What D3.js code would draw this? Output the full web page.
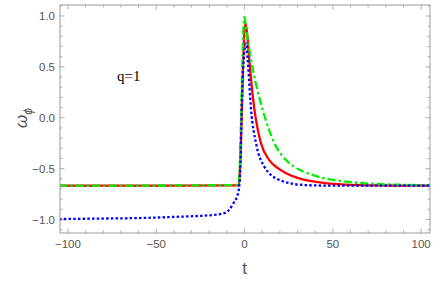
<!DOCTYPE html>
<html>
<head>
<meta charset="utf-8">
<script src="https://cdn.jsdelivr.net/npm/d3@7"></script>
<style>
  body { margin: 0; background: #fff; }
</style>
</head>
<body>
<svg id="chart" width="436" height="282"></svg>
<script>
// values: [t, omega_phi]
var redSeries = [[-105, -0.667], [-40, -0.667], [-3.3, -0.664], [0.4, 0.93], [1.4, 0.84],
    [2.7, 0.567], [4, 0.32], [5.6, 0.077], [7.3, -0.1], [9.3, -0.25], [14, -0.415],
    [18.5, -0.49], [23.5, -0.545], [30, -0.59], [40.5, -0.63], [55, -0.655], [76, -0.665], [105, -0.667]];
var greenSeries = [[-105, -0.667], [-40, -0.665], [-3.4, -0.66], [-0.1, 0.99], [1.2, 0.84],
    [3.7, 0.567], [6.5, 0.33], [10.3, 0.077], [13.5, -0.1], [16.9, -0.25], [23.5, -0.415],
    [29, -0.49], [35.8, -0.545], [42.8, -0.585], [50, -0.61], [65, -0.64], [88, -0.658], [105, -0.664]];
var blueSeries = [[-105, -0.995], [-80, -0.99], [-60, -0.985], [-37, -0.972], [-18, -0.955],
    [-11, -0.935], [-6.3, -0.84], [-3.5, -0.73], [-2.4, -0.5], [-1.6, 0.1], [-0.6, 0.55],
    [0.85, 0.73], [1.8, 0.567], [3.7, 0.077], [6.5, -0.25], [11.2, -0.48], [19.7, -0.61],
    [33, -0.66], [50, -0.667], [105, -0.667]];
var xTicks = [-100, -50, 0, 50, 100];
var yTicks = [-1.0, -0.5, 0.0, 0.5, 1.0];

var m = { left: 60, right: 6, top: 5, bottom: 49 };
var w = 436 - m.left - m.right;
var h = 282 - m.top - m.bottom;

var svg = d3.select("#chart");
var chart = svg.append("g").attr("transform", "translate(" + m.left + "," + m.top + ")");

var x = d3.scaleLinear().domain([-104.5, 105]).range([0, w]);
var y = d3.scaleLinear().domain([-1.132, 1.108]).range([h, 0]);

var frameColor = "#9a9a9a";
var labelColor = "#555";
var sans = "'Liberation Sans', Arial, sans-serif";

// clip region for curves
svg.append("defs").append("clipPath").attr("id", "clip")
    .append("rect").attr("width", w).attr("height", h);

// minor + major ticks on all four sides
var xMinor = d3.range(-100, 101, 10);
var yMinor = d3.range(-11, 12).map(function (d) { return d / 10; });

function tickLen(major) { return major ? 4.5 : 2.5; }

xMinor.forEach(function (t) {
    var major = t % 50 === 0;
    chart.append("line").attr("x1", x(t)).attr("x2", x(t)).attr("y1", h).attr("y2", h - tickLen(major))
        .attr("stroke", frameColor).attr("stroke-width", 0.8);
    chart.append("line").attr("x1", x(t)).attr("x2", x(t)).attr("y1", 0).attr("y2", tickLen(major))
        .attr("stroke", frameColor).attr("stroke-width", 0.8);
});
yMinor.forEach(function (v) {
    var major = Math.abs(Math.round(v * 10)) % 5 === 0;
    chart.append("line").attr("x1", 0).attr("x2", tickLen(major)).attr("y1", y(v)).attr("y2", y(v))
        .attr("stroke", frameColor).attr("stroke-width", 0.8);
    chart.append("line").attr("x1", w).attr("x2", w - tickLen(major)).attr("y1", y(v)).attr("y2", y(v))
        .attr("stroke", frameColor).attr("stroke-width", 0.8);
});

// tick labels
var minus = "\u2212";
chart.selectAll(".xl").data(xTicks).enter().append("text")
    .attr("x", function (d) { return x(d); })
    .attr("y", h + 15)
    .attr("text-anchor", "middle")
    .style("font-family", sans)
    .attr("font-size", 11.5)
    .attr("fill", labelColor)
    .text(function (d) { return (d < 0 ? minus : "") + Math.abs(d); });
chart.selectAll(".yl").data(yTicks).enter().append("text")
    .attr("x", -5)
    .attr("y", function (d) { return y(d) + 4; })
    .attr("text-anchor", "end")
    .style("font-family", sans)
    .attr("font-size", 11.5)
    .attr("fill", labelColor)
    .text(function (d) { return (d < 0 ? minus : "") + Math.abs(d).toFixed(1); });

// curves
var line = d3.line()
    .x(function (d) { return x(d[0]); })
    .y(function (d) { return y(d[1]); })
    .curve(d3.curveMonotoneX);

var curves = chart.append("g").attr("clip-path", "url(#clip)");
curves.append("path").attr("d", line(redSeries))
    .attr("fill", "none").attr("stroke", "#ff0000").attr("stroke-width", 2.3);
curves.append("path").attr("d", line(greenSeries))
    .attr("fill", "none").attr("stroke", "#00ee00").attr("stroke-width", 2.3)
    .attr("stroke-dasharray", "8,3,2.5,3");
curves.append("path").attr("d", line(blueSeries))
    .attr("fill", "none").attr("stroke", "#0000ff").attr("stroke-width", 2.3)
    .attr("stroke-dasharray", "2.5,2.2");

// frame
chart.append("rect").attr("width", w).attr("height", h)
    .attr("fill", "none").attr("stroke", frameColor).attr("stroke-width", 1);

// axis labels
svg.append("text")
    .attr("transform", "translate(27,118) rotate(-90)")
    .attr("text-anchor", "middle")
    .style("font-family", sans)
    .attr("font-size", 17)
    .attr("fill", labelColor)
    .html('<tspan font-style="italic">\u03c9</tspan><tspan font-size="12" dy="5" font-style="italic">\u03d5</tspan>');
svg.append("text")
    .attr("x", x(0) + m.left)
    .attr("y", 274)
    .attr("text-anchor", "middle")
    .style("font-family", sans)
    .attr("font-size", 17)
    .attr("fill", labelColor)
    .text("t");

svg.append("text")
    .attr("x", 117)
    .attr("y", 81)
    .style("font-family", "'Liberation Serif', 'Times New Roman', serif")
    .attr("font-size", 15)
    .attr("fill", "#000")
    .text("q=1");
</script>
</body>
</html>
